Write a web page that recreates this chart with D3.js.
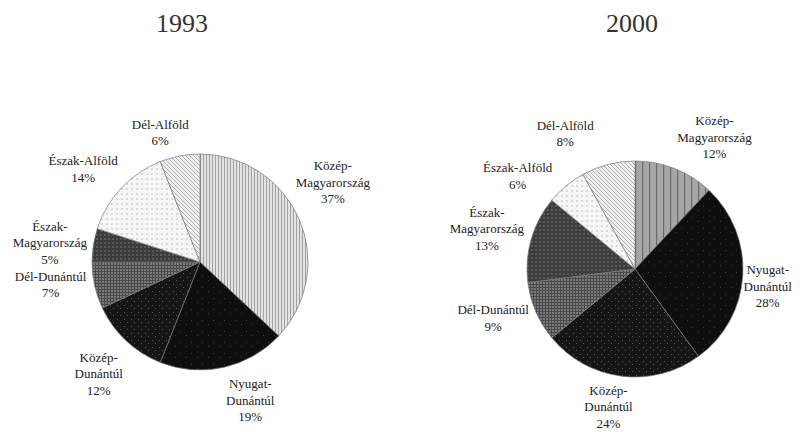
<!DOCTYPE html>
<meta charset="utf-8">
<html>
<head>
  <script src="https://d3js.org/d3.v7.min.js"></script>
  <style>
    body { margin: 0; background: #fff; }
  </style>
</head>
<body>
<div id="chart"></div>
<script>
// data
const regions = ["Közép-Magyarország", "Nyugat-Dunántúl", "Közép-Dunántúl", "Dél-Dunántúl",
                 "Észak-Magyarország", "Észak-Alföld", "Dél-Alföld"];
const years = ["1993", "2000"];
const share1993 = [37, 19, 12, 7, 5, 14, 6];
const share2000 = [12, 28, 24, 9, 13, 6, 8];

// label text is broken into lines like in the original
const labelLines = {
  "Közép-Magyarország": ["Közép-", "Magyarország"],
  "Nyugat-Dunántúl": ["Nyugat-", "Dunántúl"],
  "Közép-Dunántúl": ["Közép-", "Dunántúl"],
  "Dél-Dunántúl": ["Dél-Dunántúl"],
  "Észak-Magyarország": ["Észak-", "Magyarország"],
  "Észak-Alföld": ["Észak-Alföld"],
  "Dél-Alföld": ["Dél-Alföld"]
};

// layout
const W = 800, H = 432, R = 108, labelR = 148, lineH = 16.5;
const serif = "'Liberation Serif', 'DejaVu Serif', serif";
const pies = [
  { year: years[0], values: share1993, cx: 200, cy: 262, titleX: 182,
    nudge: [[-3, -21], [18, -6], [0, 4], [-5, -10], [-4, 4], [-9, 8], [-12, 16]] },
  { year: years[1], values: share2000, cx: 635, cy: 269, titleX: 632,
    nudge: [[25, 6], [-15, 8], [-8, -9], [-6, -10], [-6, 1], [-23, 21], [-33, 8]] }
];

const svg = d3.select("#chart").append("svg")
  .attr("width", W).attr("height", H);

// pattern fills imitating the scanned hatchings
const defs = svg.append("defs");

function pat(id, w, h, bg, draw) {
  const p = defs.append("pattern").attr("id", id)
    .attr("patternUnits", "userSpaceOnUse").attr("width", w).attr("height", h);
  p.append("rect").attr("width", w).attr("height", h).attr("fill", bg);
  draw(p);
}

pat("km1993", 3, 3, "#e2e2e2", p => p.append("rect").attr("width", 1).attr("height", 3).attr("fill", "#a4a4a4"));
pat("km2000", 7, 7, "#a6a6a6", p => p.append("rect").attr("width", 1.2).attr("height", 7).attr("fill", "#6a6a6a"));
pat("nd", 11, 11, "#0e0e0e", p => {
  [[2, 3], [8, 7]].forEach(d => p.append("rect").attr("x", d[0]).attr("y", d[1])
    .attr("width", 1).attr("height", 1).attr("fill", "#3a3a3a"));
});
pat("kd", 7, 7, "#161616", p => {
  [[1, 1], [4, 4]].forEach(d => p.append("rect").attr("x", d[0]).attr("y", d[1])
    .attr("width", 1).attr("height", 1).attr("fill", "#555"));
});
pat("dd", 3, 3, "#7a7a7a", p => {
  p.append("rect").attr("width", 3).attr("height", 1).attr("fill", "#4a4a4a");
  p.append("rect").attr("width", 1).attr("height", 3).attr("fill", "#4a4a4a");
});
pat("em", 4, 4, "#3c3c3c", p => {
  p.append("rect").attr("width", 2).attr("height", 2).attr("fill", "#5a5a5a");
});
pat("ea", 5, 5, "#f6f6f6", p => {
  p.append("rect").attr("x", 1).attr("y", 1).attr("width", 2).attr("height", 2).attr("fill", "#dadada");
});
pat("da", 4, 4, "#f0f0f0", p => {
  p.append("path").attr("d", "M0,0L4,4M-1,3L1,5M3,-1L5,1")
    .attr("stroke", "#b0b0b0").attr("stroke-width", 1);
});

const fillIds = {
  "Nyugat-Dunántúl": "nd", "Közép-Dunántúl": "kd", "Dél-Dunántúl": "dd",
  "Észak-Magyarország": "em", "Észak-Alföld": "ea", "Dél-Alföld": "da"
};

const pie = d3.pie().sort(null).value(d => d.value);
const arc = d3.arc().innerRadius(0).outerRadius(R);
const labelArc = d3.arc().innerRadius(labelR).outerRadius(labelR);

pies.forEach(cfg => {
  const data = regions.map((r, i) => ({ region: r, value: cfg.values[i] }));
  const arcs = pie(data);

  // title
  svg.append("text")
    .attr("x", cfg.titleX).attr("y", 32)
    .attr("text-anchor", "middle")
    .attr("font-family", serif)
    .attr("font-size", 26)
    .attr("fill", "#333")
    .text(cfg.year);

  const g = svg.append("g").attr("transform", `translate(${cfg.cx},${cfg.cy})`);

  g.selectAll("path.slice")
    .data(arcs)
    .join("path")
      .attr("class", "slice")
      .attr("d", arc)
      .attr("fill", d => {
        const id = d.data.region === "Közép-Magyarország" ? "km" + cfg.year : fillIds[d.data.region];
        return `url(#${id})`;
      })
      .attr("stroke", "#7a7a7a")
      .attr("stroke-width", 0.7);

  // labels
  arcs.forEach((d, i) => {
    const c = labelArc.centroid(d);
    const lines = labelLines[d.data.region].concat([d.data.value + "%"]);
    const x = c[0] + cfg.nudge[i][0];
    const y0 = c[1] + cfg.nudge[i][1] - (lines.length - 1) * lineH / 2;
    const t = g.append("text")
      .attr("text-anchor", "middle")
      .attr("font-family", serif)
      .attr("font-size", 13)
      .attr("fill", "#222");
    lines.forEach((ln, k) => {
      t.append("tspan")
        .attr("x", x)
        .attr("y", y0 + k * lineH)
        .attr("dy", "0.35em")
        .text(ln);
    });
  });
});
</script>
</body>
</html>
